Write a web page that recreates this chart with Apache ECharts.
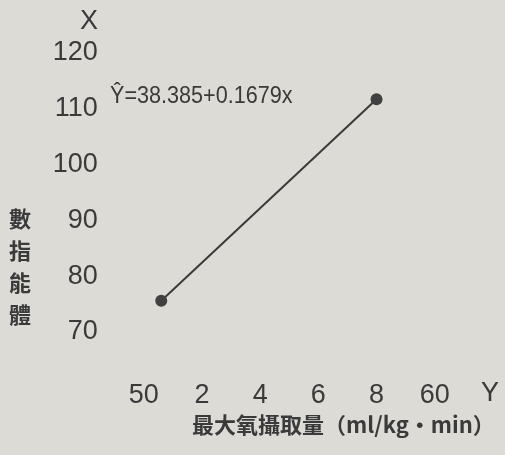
<!DOCTYPE html>
<html>
<head>
<meta charset="utf-8">
<script src="https://cdn.jsdelivr.net/npm/echarts@6/dist/echarts.min.js"></script>
<style>
html,body{margin:0;padding:0;background:#dcdbd6;}
#c{width:505px;height:455px;}
</style>
</head>
<body>
<div id="c"></div>
<script>
// ---- data ----
const xTickValues = [50, 52, 54, 56, 58, 60];
const xTickLabels = ['50', '2', '4', '6', '8', '60'];
const yTickValues = [70, 80, 90, 100, 110, 120];
const lineX = [50.6, 58.0];
const lineY = [75.6, 111.7];
const xAxisName = 'Y';
const yAxisName = 'X';
const xTitle = '最大氧攝取量（ml/kg·min）';
const yTitleChars = ['數', '指', '能', '體'];
const equation = 'Ŷ=38.385+0.1679x';

const ink = '#3a3a3a';
const numFont = "'Liberation Sans Narrow', 'Liberation Sans', sans-serif";
const cjkFont = "'Noto Sans CJK TC', 'Noto Sans CJK SC', sans-serif";

const chart = echarts.init(document.getElementById('c'));
chart.setOption({
  animation: false,
  backgroundColor: '#dcdbd6',
  grid: { left: 143.8, right: 70.3, top: 53, bottom: 123 },
  xAxis: {
    type: 'value',
    min: xTickValues[0],
    max: xTickValues[xTickValues.length - 1],
    interval: 2,
    axisLine: { show: false },
    axisTick: { show: false },
    splitLine: { show: false },
    axisLabel: {
      margin: 50,
      fontFamily: numFont,
      fontSize: 27,
      color: ink,
      formatter: v => {
        const i = xTickValues.indexOf(v);
        return i >= 0 ? xTickLabels[i] : '';
      }
    }
  },
  yAxis: {
    type: 'value',
    min: yTickValues[0],
    max: yTickValues[yTickValues.length - 1],
    interval: 10,
    axisLine: { show: false },
    axisTick: { show: false },
    splitLine: { show: false },
    axisLabel: {
      margin: 46,
      fontFamily: numFont,
      fontSize: 27,
      color: ink
    }
  },
  graphic: [
    { type: 'text', left: 80, top: 8, style: { text: yAxisName, font: "27px " + numFont, fill: ink } },
    { type: 'text', left: 481, top: 380, style: { text: xAxisName, font: "27px " + numFont, fill: ink } },
    { type: 'text', left: 110, top: 84, scaleX: 0.9, style: { text: equation, font: "24px " + numFont, fill: ink } },
    { type: 'text', left: 192, top: 414, style: { text: xTitle, font: "bold 22px " + cjkFont, fill: ink } },
    { type: 'text', left: 9, top: 203, style: { text: yTitleChars.join('\n'), font: "bold 22px " + cjkFont, fill: ink, lineHeight: 32 } }
  ],
  series: [{
    type: 'line',
    data: lineX.map((x, i) => [x, lineY[i]]),
    symbol: 'circle',
    symbolSize: 12,
    lineStyle: { color: ink, width: 2 },
    itemStyle: { color: '#404040' }
  }]
});
</script>
</body>
</html>
